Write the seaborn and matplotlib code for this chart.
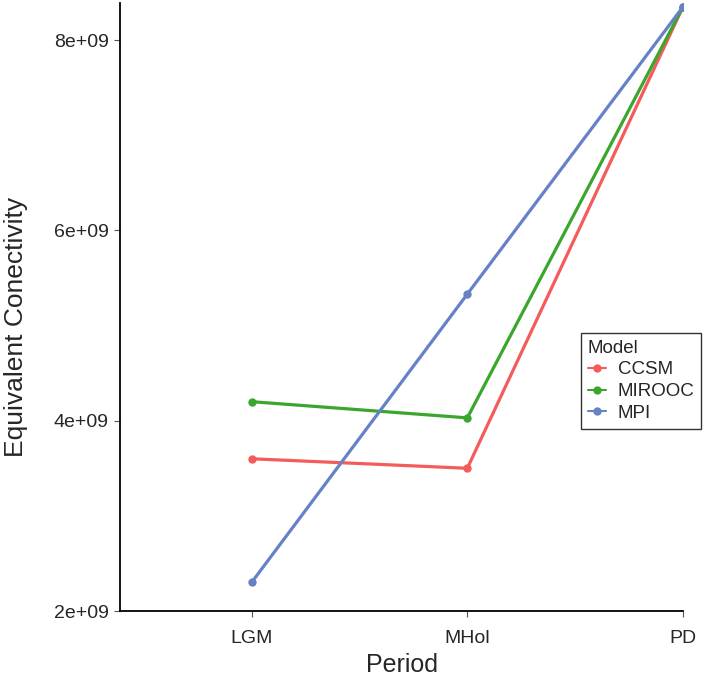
import numpy as np
import pandas as pd
import matplotlib
matplotlib.use('Agg')
import matplotlib.pyplot as plt
import seaborn as sns
from matplotlib.ticker import FuncFormatter

periods = ['LGM', 'MHol', 'PD']
models = ['CCSM', 'MIROOC', 'MPI']
ccsm = [3.60e9, 3.50e9, 8.35e9]
mirooc = [4.20e9, 4.03e9, 8.35e9]
mpi = [2.30e9, 5.33e9, 8.35e9]
colors = ['#F55B5B', '#3AA62C', '#6482C4']

df = pd.DataFrame({
    'Period': periods * 3,
    'Model': ['CCSM'] * 3 + ['MIROOC'] * 3 + ['MPI'] * 3,
    'value': ccsm + mirooc + mpi,
})

sns.set_style('white')
plt.rcParams['font.family'] = ['Liberation Sans', 'DejaVu Sans']

fig = plt.figure(figsize=(7.09, 6.85), dpi=100)
ax = fig.add_axes([120 / 709, 1 - 611 / 685, (683 - 120) / 709, (611 - 3) / 685])

sns.lineplot(data=df, x='Period', y='value', hue='Model', hue_order=models,
             palette=colors, marker='o', markersize=6, markeredgewidth=0,
             linewidth=2.3, ax=ax)

ax.set_xlim(-0.61, 2.0)
ax.set_ylim(2e9, 8.39e9)
ax.set_yticks([2e9, 4e9, 6e9, 8e9])
ax.yaxis.set_major_formatter(FuncFormatter(lambda v, p: f'{v:.0e}'))

for s in ['top', 'right']:
    ax.spines[s].set_visible(False)
for s in ['left', 'bottom']:
    ax.spines[s].set_color('black')
    ax.spines[s].set_linewidth(1.3)

ax.tick_params(axis='both', which='major', labelsize=14, length=4,
               width=0.8, color='#555555', direction='out', pad=10,
               bottom=True, left=True)
ax.tick_params(axis='y', pad=4)

ax.set_xlabel('Period', fontsize=18, labelpad=4)
ax.set_ylabel('Equivalent Conectivity', fontsize=19)
ax.yaxis.set_label_coords(-0.163, 0.467)

leg = ax.legend(title='Model', loc='upper left',
                bbox_to_anchor=(581 / 709, 1 - 333 / 685),
                bbox_transform=fig.transFigure,
                fontsize=13.5, title_fontsize=13.5, frameon=True,
                fancybox=False, edgecolor='black', handlelength=1.0,
                borderpad=0.35, labelspacing=0.25, handletextpad=0.6,
                borderaxespad=0)
leg.get_frame().set_linewidth(1.0)
leg._legend_box.align = 'left'
for h in leg.get_lines():
    h.set_linewidth(1.5)

fig.savefig('out.png', dpi=100)
